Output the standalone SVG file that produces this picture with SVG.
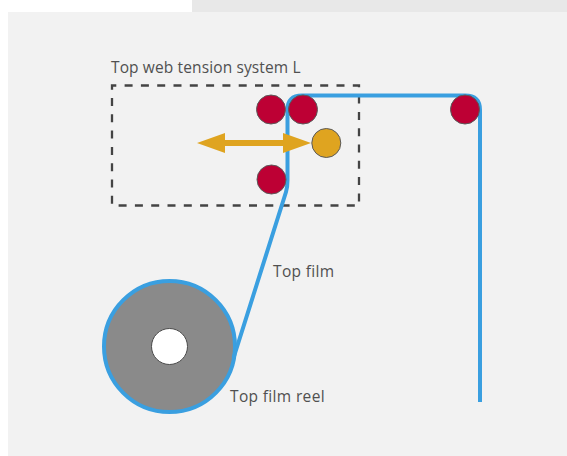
<svg xmlns="http://www.w3.org/2000/svg" width="567" height="456" viewBox="0 0 567 456">
<style>
text{font-family:"Open Sans","Noto Sans","Liberation Sans",sans-serif;font-size:15.5px;letter-spacing:.12px;fill:#505050}
.wide{letter-spacing:.35px}
.roller{fill:#bd0034;stroke:#5a5a5a;stroke-width:1}
.film{fill:none;stroke:#3a9fe0;stroke-width:4}
</style>
<rect width="567" height="456" fill="#fff"/>
<rect x="192" y="0" width="375" height="12" fill="#e8e8e8"/>
<rect x="8" y="12" width="559" height="444" fill="#f2f2f2"/>
<g id="tension-system">
<rect x="112" y="85.500" width="247" height="120" fill="none" stroke="#444" stroke-width="2.300" stroke-dasharray="8 8.300" stroke-dashoffset="3.700"/>
<text x="111" y="73">Top web tension system L</text>
</g>
<g id="reel">
<circle cx="169.500" cy="346.500" r="65.500" fill="#8a8a8a" stroke="#3a9fe0" stroke-width="4"/>
<circle cx="169.500" cy="346.500" r="18" fill="#fff" stroke="#4a4a4a" stroke-width="1"/>
<text class="wide" x="230" y="402">Top film reel</text>
</g>
<g id="connectors">
<path class="film" d="M233.500 358L286 192Q287.500 187 287.500 180V110Q287.500 95.500 302 95.500H465Q480 95.500 480 110V402"/>
<path fill="#dfa420" d="M197 143L225 133V140H283V133L311 143L283 153V146H225V153Z"/>
</g>
<g id="film-label"><text class="wide" x="273" y="277">Top film</text></g>
<g id="roller-1"><circle class="roller" cx="271" cy="109.500" r="14.500"/></g>
<g id="roller-2"><circle class="roller" cx="303" cy="109.500" r="14.500"/></g>
<g id="roller-3"><circle class="roller" cx="465" cy="109.500" r="14.500"/></g>
<g id="roller-4"><circle class="roller" cx="271.500" cy="179.500" r="14.500"/></g>
<g id="dancer"><circle cx="326.300" cy="143" r="14.500" fill="#dfa420" stroke="#5a5a5a" stroke-width="1"/></g>
</svg>
